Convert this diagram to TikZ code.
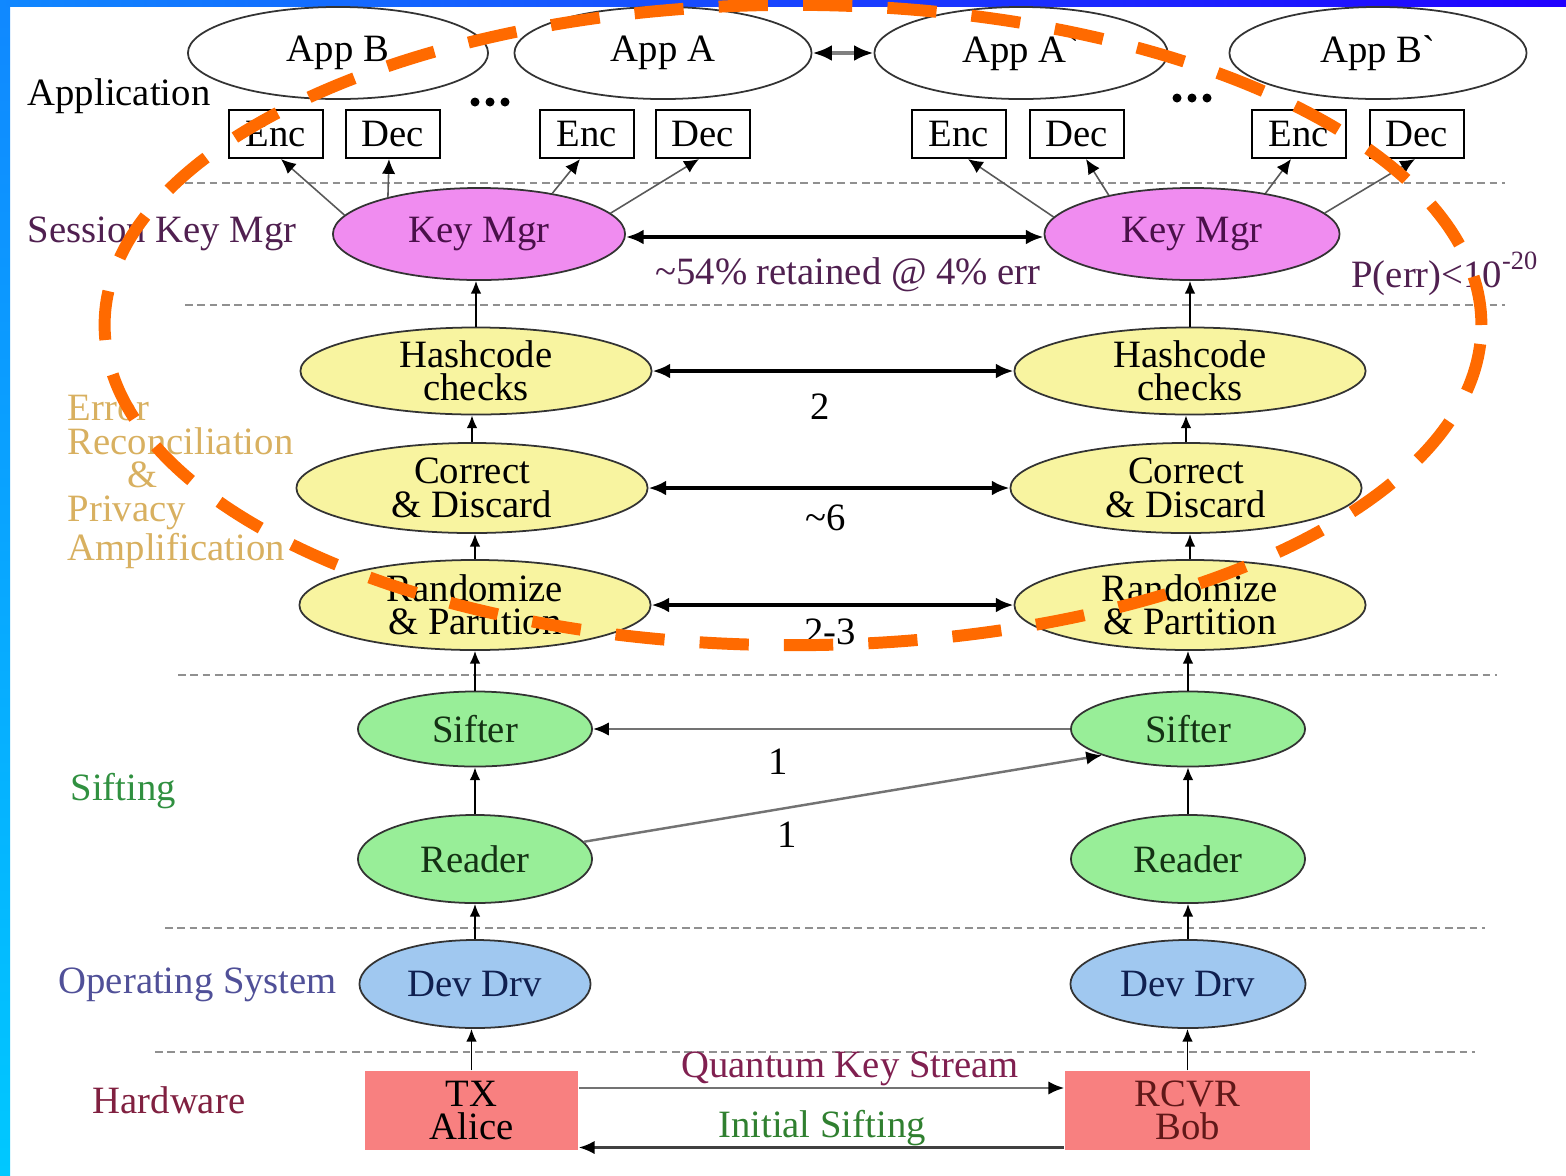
\documentclass[tikz,border=0pt]{standalone}
\usepackage{fontspec}
\newfontfamily\diag{Liberation Serif}
\usetikzlibrary{shapes.geometric,arrows.meta,calc}
\definecolor{kmfill}{HTML}{F08CF0}
\definecolor{kmtext}{HTML}{4A104A}
\definecolor{yfill}{HTML}{F8F4A0}
\definecolor{gfill}{HTML}{98EE98}
\definecolor{gtext}{HTML}{143214}
\definecolor{bfill}{HTML}{A0C8F0}
\definecolor{btext}{HTML}{102050}
\definecolor{rfill}{HTML}{F88080}
\definecolor{purp}{HTML}{502050}
\definecolor{goldl}{HTML}{D8B060}
\definecolor{sgreen}{HTML}{309040}
\definecolor{osblue}{HTML}{505098}
\definecolor{hwred}{HTML}{802040}
\definecolor{qks}{HTML}{802050}
\definecolor{isg}{HTML}{308030}
\definecolor{rcvrt}{HTML}{601818}
\definecolor{orng}{HTML}{FF6A00}
\definecolor{sepgray}{HTML}{909090}
\definecolor{bordA}{HTML}{1088FF}
\definecolor{bordB}{HTML}{00C8FF}
\definecolor{bordC}{HTML}{2000FF}
\tikzset{
  every node/.style={font=\diag\fontsize{11}{9.5}\selectfont},
  ell/.style={ellipse, draw=black!80, line width=0.5pt, inner sep=0pt, align=center},
  appell/.style={ell, fill=white},
  kbox/.style={rectangle, draw=black, line width=0.6pt, minimum width=0.94cm, minimum height=0.48cm, inner sep=0pt},
  kmell/.style={ell, fill=kmfill, text=kmtext, minimum height=0.92cm},
  yell/.style={ell, fill=yfill, minimum width=3.51cm},
  gell/.style={ell, fill=gfill, text=gtext, minimum width=2.34cm},
  bell/.style={ell, fill=bfill, text=btext, minimum width=2.31cm, minimum height=0.88cm},
  hwbox/.style={rectangle, fill=rfill, inner sep=0pt, minimum height=0.79cm, align=center},
  sepline/.style={draw=sepgray, line width=0.7pt, dash pattern=on 2.2pt off 1.3pt},
  uparr/.style={-{Latex[length=3.6pt,width=3pt]}, line width=0.45pt, black},
  keyarr/.style={-{Latex[length=4.2pt,width=3.8pt,color=black]}, line width=0.45pt, draw=black!65},
  bigarr/.style={{Latex[length=5pt,width=4.2pt]}-{Latex[length=5pt,width=4.2pt]}, line width=1.1pt, black},
  grayarr/.style={-{Latex[length=4.5pt,width=3.8pt,color=black]}, line width=0.7pt, draw=black!55},
  lbl/.style={inner sep=0pt}
}
\begin{document}
\begin{tikzpicture}[x=0.01cm,y=-0.01cm]
\useasboundingbox (0,0) rectangle (1566,1175);
\clip (0,0) rectangle (1566,1175);
% borders
\shade[top color=bordA, bottom color=bordB] (0,0) rectangle (10,1175);
\shade[left color=bordA, right color=bordC] (0,0) rectangle (1566,6);

% Application layer
\node[appell, minimum width=3.0cm, minimum height=0.92cm] (appB) at (338,53) {App B};
\node[appell, minimum width=2.97cm, minimum height=0.92cm] (appA) at (663,53) {App A};
\node[appell, minimum width=2.93cm, minimum height=0.92cm] (appAp) at (1021,53) {App A`};
\node[appell, minimum width=2.97cm, minimum height=0.92cm] (appBp) at (1378,53) {App B`};
\draw[{Latex[length=5.5pt,width=4.5pt,color=black]}-{Latex[length=5.5pt,width=4.5pt,color=black]}, line width=1.3pt, draw=black!50] (appA.east) -- (appAp.west);
\foreach \dx in {-15,0,15} {
  \fill (490+\dx,102) circle [radius=4.5];
  \fill (1192+\dx,98) circle [radius=4.5];
}
\node[kbox] (encB) at (276,134) {Enc};
\node[kbox] (decB) at (393,134) {Dec};
\node[kbox] (encA) at (587,134) {Enc};
\node[kbox] (decA) at (703,134) {Dec};
\node[kbox] (encAp) at (959,134) {Enc};
\node[kbox] (decAp) at (1077,134) {Dec};
\node[kbox] (encBp) at (1299,134) {Enc};
\node[kbox] (decBp) at (1417,134) {Dec};
\node[lbl, anchor=west] (lapp) at (27,96) {Application};

\draw[sepline] (185,183) -- (1505,183);

% Session key manager
\node[kmell, minimum width=2.92cm] (kmL) at (479,234) {Key Mgr};
\node[kmell, minimum width=2.95cm] (kmR) at (1192,234) {Key Mgr};
\draw[keyarr] (kmL.172) -- ($(encB.south)+(5,0)$);
\draw[keyarr] (kmL.158) -- ($(decB.south)+(-4,0)$);
\draw[keyarr] (kmL.29) -- ($(encA.south)+(-7,0)$);
\draw[keyarr] (kmL.9) -- ($(decA.south)+(-4,0)$);
\draw[keyarr] (kmR.173) -- ($(encAp.south)+(9,0)$);
\draw[keyarr] (kmR.155) -- ($(decAp.south)+(9,0)$);
\draw[keyarr] (kmR.29) -- ($(encBp.south)+(-8,0)$);
\draw[keyarr] (kmR.9) -- ($(decBp.south)+(-2,0)$);
\draw[bigarr] ($(kmL.east)+(0,3)$) -- ($(kmR.west)+(0,3)$);
\node[lbl, text=purp, anchor=west] (lskm) at (27,234) {Session Key Mgr};
\node[lbl, text=purp] (l54) at (848,275) {\textasciitilde54\% retained @ 4\% err};
\node[lbl, text=purp, anchor=east] (lperr) at (1538,274) {P(err)<10\raisebox{1.0ex}{\fontsize{7.5}{7.5}\selectfont -20}};

\draw[sepline] (185,305) -- (1505,305);

% Error reconciliation
\node[yell, minimum height=0.87cm] (hcL) at (476,371) {Hashcode\\checks};
\node[yell, minimum height=0.87cm] (hcR) at (1190,371) {Hashcode\\checks};
\node[yell, minimum height=0.90cm] (cdL) at (472,488) {Correct\\\& Discard};
\node[yell, minimum height=0.90cm] (cdR) at (1186,488) {Correct\\\& Discard};
\node[yell, minimum height=0.90cm] (rpL) at (475,605) {Randomize\\\& Partition};
\node[yell, minimum height=0.90cm] (rpR) at (1190,605) {Randomize\\\& Partition};
\draw[uparr] (hcL.north) -- (hcL.north |- kmL.south);
\draw[uparr] (hcR.north) -- (hcR.north |- kmR.south);
\draw[uparr] (cdL.north) -- (cdL.north |- hcL.south);
\draw[uparr] (cdR.north) -- (cdR.north |- hcR.south);
\draw[uparr] (rpL.north) -- (rpL.north |- cdL.south);
\draw[uparr] (rpR.north) -- (rpR.north |- cdR.south);
\draw[bigarr] (hcL.east) -- (hcR.west);
\draw[bigarr] (cdL.east) -- (cdR.west);
\draw[bigarr] (rpL.east) -- (rpR.west);
\node[lbl] (l2) at (820,407) {2};
\node[lbl] (l6) at (826,518) {\textasciitilde6};
\node[lbl] (l23) at (830,632) {2-3};
\node[lbl, text=goldl, align=left, anchor=west, font=\diag\fontsize{11}{9.6}\selectfont] (lerr) at (67,482) {Error\\Reconciliation\\\hspace*{1.55em}\&\\Privacy\\Amplification};

\draw[sepline] (178,675) -- (1497,675);

% Sifting
\node[gell, minimum height=0.75cm] (sfL) at (475,729) {Sifter};
\node[gell, minimum height=0.75cm] (sfR) at (1188,729) {Sifter};
\node[gell, minimum height=0.88cm] (rdL) at (475,859) {Reader};
\node[gell, minimum height=0.88cm] (rdR) at (1188,859) {Reader};
\draw[uparr] (sfL.north) -- (sfL.north |- rpL.south);
\draw[uparr] (sfR.north) -- (sfR.north |- rpR.south);
\draw[uparr] (rdL.north) -- (sfL.south);
\draw[uparr] (rdR.north) -- (sfR.south);
\draw[grayarr] (sfR.west) -- (sfL.east);
\draw[grayarr] (rdL.9) -- (sfR.197);
\node[lbl] (l1a) at (778,762) {1};
\node[lbl] (l1b) at (787,835) {1};
\node[lbl, text=sgreen, anchor=west] (lsift) at (70,791) {Sifting};

\draw[sepline] (165,928) -- (1485,928);

% Operating system
\node[bell] (ddL) at (475,984) {Dev Drv};
\node[bell, minimum width=2.35cm] (ddR) at (1188,984) {Dev Drv};
\draw[uparr] (ddL.north) -- (rdL.south);
\draw[uparr] (ddR.north) -- (rdR.south);
\node[lbl, text=osblue, anchor=west] (los) at (58,985) {Operating System};

\draw[sepline] (155,1052) -- (1475,1052);

% Hardware
\node[hwbox, minimum width=2.13cm] (tx) at (471.5,1110.5) {TX\\Alice};
\node[hwbox, minimum width=2.45cm, text=rcvrt] (rcvr) at (1187.5,1110.5) {RCVR\\Bob};
\draw[uparr] (tx.north) -- (tx.north |- ddL.south);
\draw[uparr] (rcvr.north) -- (rcvr.north |- ddR.south);
\draw[grayarr] ($(tx.north east)!0.22!(tx.south east)$) -- ($(rcvr.north west)!0.22!(rcvr.south west)$);
\draw[-{Latex[length=4.5pt,width=3.8pt,color=black]}, line width=0.7pt, draw=black!75] ($(rcvr.north west)!0.96!(rcvr.south west)$) -- ($(tx.north east)!0.96!(tx.south east)$);
\node[lbl, text=qks] (lqks) at (850,1069) {Quantum Key Stream};
\node[lbl, text=isg] (lis) at (822,1128) {Initial Sifting};
\node[lbl, text=hwred, anchor=west] (lhw) at (92,1100) {Hardware};

% orange highlight
\draw[draw=orng, line width=3.4pt, dash pattern=on 14pt off 10pt] (793,325) ellipse [x radius=6.88cm, y radius=3.2cm];
\end{tikzpicture}
\end{document}
